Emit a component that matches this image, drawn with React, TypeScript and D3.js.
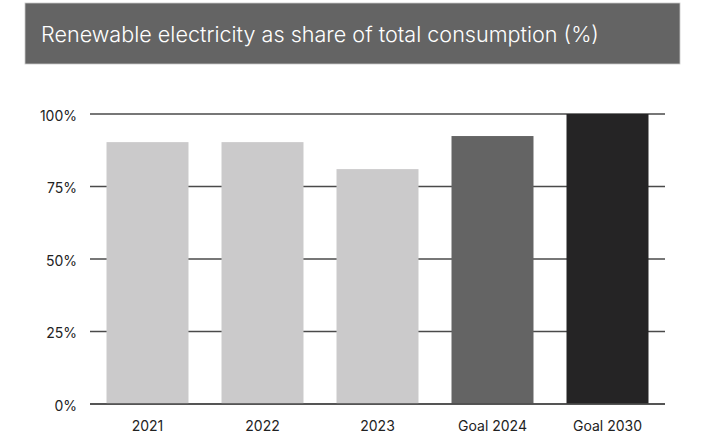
import React from "react";
import * as d3 from "d3";

const categories = ["2021", "2022", "2023", "Goal 2024", "Goal 2030"];
const values = [90.3, 90.3, 81.0, 92.4, 100];
const barColors = ["#cbcacb", "#cbcacb", "#cbcacb", "#646464", "#252425"];
const yTicks = [0, 25, 50, 75, 100];
const title = "Renewable electricity as share of total consumption (%)";

export default function App() {
  const W = 719, H = 437;
  const x = d3.scaleBand<string>().domain(categories).range([90, 665]).paddingInner(0.287).paddingOuter(0.1435);
  const y = d3.scaleLinear().domain([0, 100]).range([404, 114]);
  const font = "Inter, 'Noto Sans', sans-serif";
  return (
    <svg width={W} height={H} style={{ position: "absolute", left: 0, top: 0, display: "block" }}>
      <rect x={25} y={3} width={655} height={61} fill="#646464" stroke="#c8c8c8" strokeWidth={0.8} />
      <text x={41} y={41.5} fill="#ffffff" fontSize={21.6} fontWeight={300} fontFamily={font}>{title}</text>
      {yTicks.map((t) => (
        <g key={t}>
          <line x1={90} x2={665} y1={y(t)} y2={y(t)} stroke="#4a4a4a" strokeWidth={1.3} />
          <text x={77} y={y(t) + 2} dy="0.35em" textAnchor="end" fontSize={14} fill="#222" fontFamily={font}>{t}%</text>
        </g>
      ))}
      {categories.map((c, i) => (
        <g key={c}>
          <rect x={x(c)} y={y(values[i])} width={x.bandwidth()} height={y(0) - y(values[i])} fill={barColors[i]} />
          <text x={(x(c) as number) + x.bandwidth() / 2} y={431} textAnchor="middle" fontSize={14} fill="#222" fontFamily={font}>{c}</text>
        </g>
      ))}
      <line x1={90} x2={665} y1={y(0)} y2={y(0)} stroke="#4a4a4a" strokeWidth={1.3} />
    </svg>
  );
}
